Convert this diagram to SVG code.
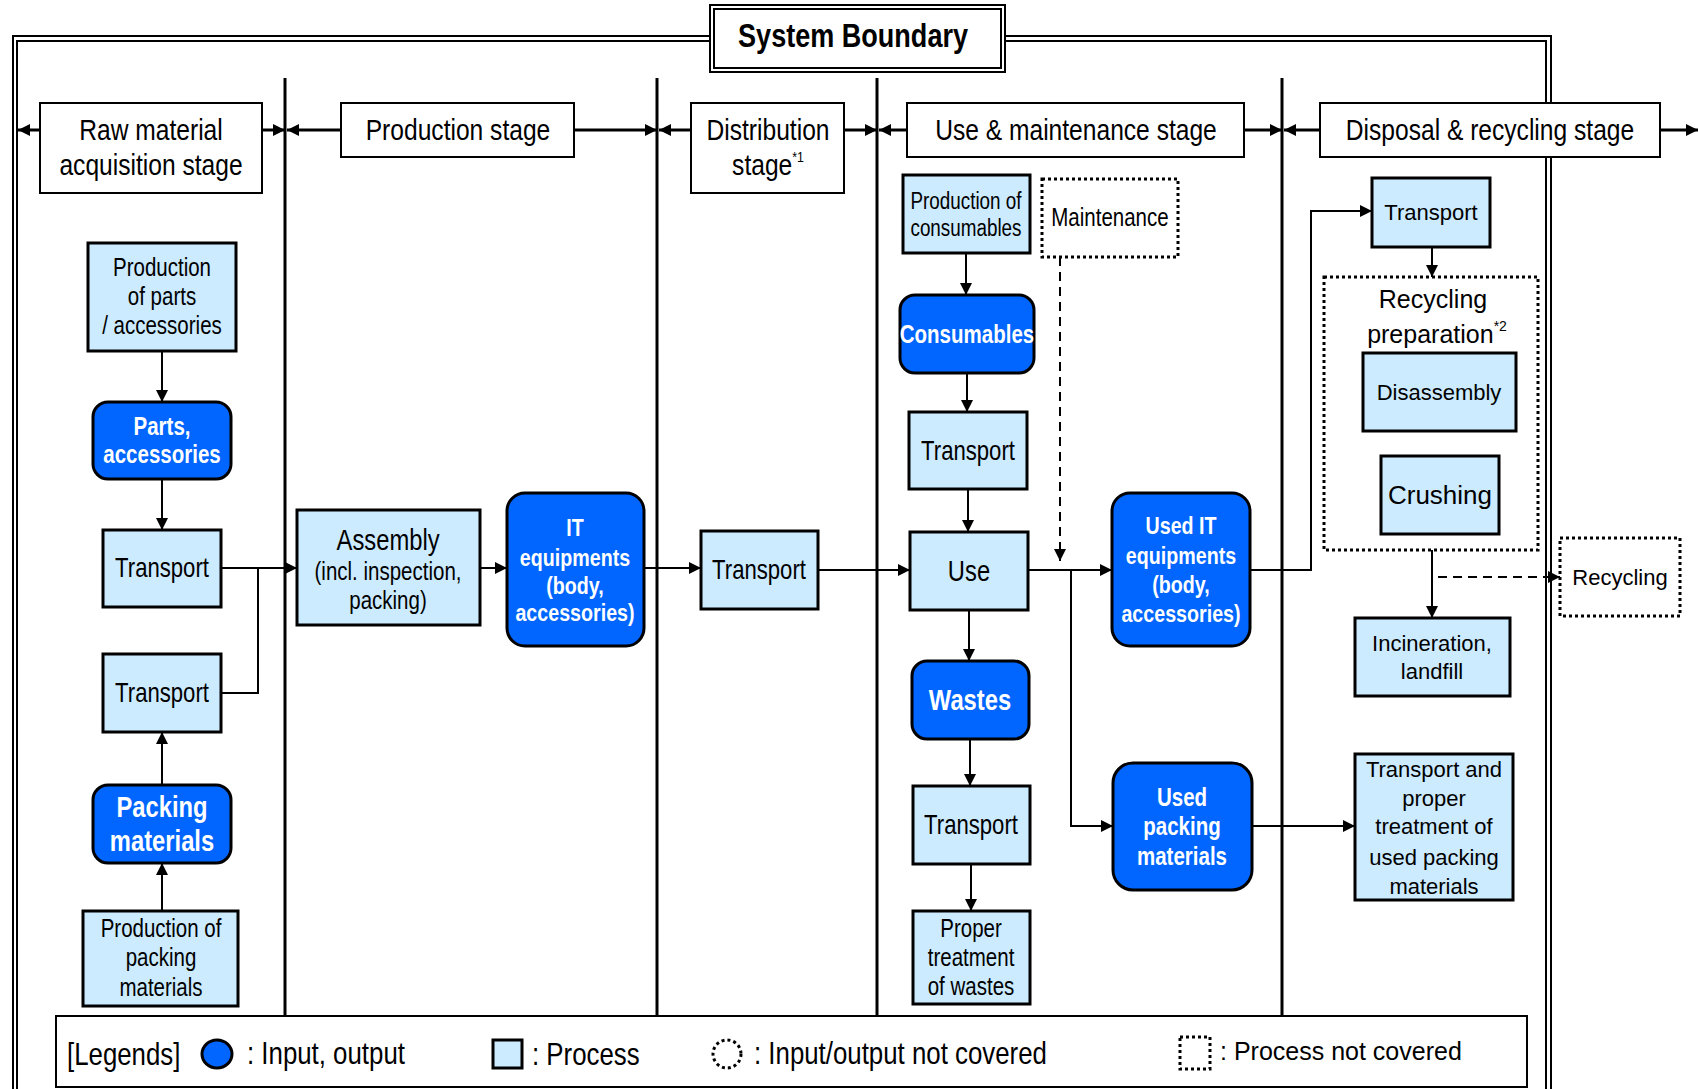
<svg xmlns="http://www.w3.org/2000/svg" width="1698" height="1089" viewBox="0 0 1698 1089">
<style>
.n{font-family:"Liberation Sans",Arial,sans-serif;transform-box:fill-box;transform-origin:center;transform:scaleX(0.82);}
.ns{font-family:"Liberation Sans",Arial,sans-serif;transform-box:fill-box;transform-origin:left center;transform:scaleX(0.82);text-anchor:start;}
.r{font-family:"Liberation Sans",Arial,sans-serif;}
text{text-anchor:middle;fill:#000;}
.w{fill:#fff;font-weight:bold;}
.proc{fill:#CCEBFF;stroke:#000;stroke-width:3;}
.io{fill:#0066FF;stroke:#000;stroke-width:3;}
.hdr{fill:#fff;stroke:#000;stroke-width:2;}
.nc{fill:#fff;stroke:#000;stroke-width:3;stroke-dasharray:3 3;}
.ln{fill:none;stroke:#000;stroke-width:2;}
.dash{fill:none;stroke:#000;stroke-width:2;stroke-dasharray:9 6;}
.hl{fill:none;stroke:#000;stroke-width:3;}
.div{stroke:#000;stroke-width:3;}
.bd{fill:none;stroke:#000;stroke-width:2;}
</style>
<defs>
<marker id="ah" markerUnits="userSpaceOnUse" markerWidth="13" markerHeight="12" refX="12" refY="6" orient="auto">
<path d="M0,0 L12,6 L0,12 z" fill="#000"/>
</marker>
</defs>
<rect width="1698" height="1089" fill="#fff"/>

<g id="boundary">
<path class="bd" d="M13,1089 V36 H1551 V1089"/>
<path class="bd" d="M17,1089 V41 H1546 V1089"/>
<line class="div" x1="285" y1="78" x2="285" y2="1016"/>
<line class="div" x1="657" y1="78" x2="657" y2="1016"/>
<line class="div" x1="877" y1="78" x2="877" y2="1016"/>
<line class="div" x1="1282" y1="78" x2="1282" y2="1016"/>
</g>

<g id="system-boundary">
<rect x="710" y="5" width="295" height="67" fill="#fff" stroke="#000" stroke-width="2"/>
<rect x="714" y="9" width="287" height="59" fill="none" stroke="#000" stroke-width="2"/>
<text class="n" x="853" y="47" font-size="33" font-weight="bold">System Boundary</text>
</g>

<g id="stage-headers">
<g id="hdr-raw"><rect class="hdr" x="40" y="103" width="222" height="90"/>
<text class="n" font-size="30" x="151" y="140">Raw material</text>
<text class="n" font-size="30" x="151" y="175">acquisition stage</text></g>
<g id="hdr-prod"><rect class="hdr" x="341" y="103" width="233" height="54"/>
<text class="n" font-size="30" x="458" y="140">Production stage</text></g>
<g id="hdr-dist"><rect class="hdr" x="691" y="103" width="153" height="90"/>
<text class="n" font-size="30" x="768" y="140">Distribution</text>
<text class="n" font-size="30" x="768" y="175">stage<tspan font-size="15" dy="-13">*1</tspan></text></g>
<g id="hdr-use"><rect class="hdr" x="907" y="103" width="337" height="54"/>
<text class="n" font-size="30" x="1076" y="140">Use &amp; maintenance stage</text></g>
<g id="hdr-disp"><rect class="hdr" x="1320" y="103" width="340" height="54"/>
<text class="n" font-size="30" x="1490" y="140">Disposal &amp; recycling stage</text></g>
</g>

<g id="connectors">
<line class="hl" x1="40" y1="130" x2="18" y2="130" marker-end="url(#ah)"/>
<line class="hl" x1="262" y1="130" x2="285" y2="130" marker-end="url(#ah)"/>
<line class="hl" x1="341" y1="130" x2="287" y2="130" marker-end="url(#ah)"/>
<line class="hl" x1="574" y1="130" x2="657" y2="130" marker-end="url(#ah)"/>
<line class="hl" x1="691" y1="130" x2="659" y2="130" marker-end="url(#ah)"/>
<line class="hl" x1="844" y1="130" x2="877" y2="130" marker-end="url(#ah)"/>
<line class="hl" x1="907" y1="130" x2="879" y2="130" marker-end="url(#ah)"/>
<line class="hl" x1="1244" y1="130" x2="1282" y2="130" marker-end="url(#ah)"/>
<line class="hl" x1="1320" y1="130" x2="1284" y2="130" marker-end="url(#ah)"/>
<line class="hl" x1="1660" y1="130" x2="1698" y2="130" marker-end="url(#ah)"/>

<path class="ln" d="M162,351 V402" marker-end="url(#ah)"/>
<path class="ln" d="M162,479 V530" marker-end="url(#ah)"/>
<path class="ln" d="M221,568 H297" marker-end="url(#ah)"/>
<path class="ln" d="M221,693 H258 V568"/>
<path class="ln" d="M162,785 V732" marker-end="url(#ah)"/>
<path class="ln" d="M162,911 V863" marker-end="url(#ah)"/>
<path class="ln" d="M480,568 H507" marker-end="url(#ah)"/>
<path class="ln" d="M644,568 H701" marker-end="url(#ah)"/>
<path class="ln" d="M818,570 H910" marker-end="url(#ah)"/>
<path class="ln" d="M966,253 V295" marker-end="url(#ah)"/>
<path class="ln" d="M967,373 V412" marker-end="url(#ah)"/>
<path class="ln" d="M968,489 V532" marker-end="url(#ah)"/>
<path class="ln" d="M969,610 V661" marker-end="url(#ah)"/>
<path class="ln" d="M970,739 V786" marker-end="url(#ah)"/>
<path class="ln" d="M971,864 V911" marker-end="url(#ah)"/>
<path class="dash" d="M1060,257 V561" marker-end="url(#ah)"/>
<path class="ln" d="M1028,570 H1112" marker-end="url(#ah)"/>
<path class="ln" d="M1071,570 V826 H1113" marker-end="url(#ah)"/>
<path class="ln" d="M1250,570 H1311 V211 H1372" marker-end="url(#ah)"/>
<path class="ln" d="M1432,247 V277" marker-end="url(#ah)"/>
<path class="ln" d="M1439,431 V456" marker-end="url(#ah)"/>
<path class="ln" d="M1432,550 V618" marker-end="url(#ah)"/>
<path class="dash" d="M1438,577 H1560" marker-end="url(#ah)"/>
<path class="ln" d="M1252,826 H1355" marker-end="url(#ah)"/>
</g>

<g id="prod-parts"><rect class="proc" x="88" y="243" width="148" height="108"/>
<text class="n" font-size="25" x="162" y="276">Production</text>
<text class="n" font-size="25" x="162" y="305">of parts</text>
<text class="n" font-size="25" x="162" y="334">/ accessories</text></g>
<g id="parts"><rect class="io" x="93" y="402" width="138" height="77" rx="15"/>
<text class="n w" font-size="25" x="162" y="435">Parts,</text>
<text class="n w" font-size="25" x="162" y="463">accessories</text></g>
<g id="transport-1"><rect class="proc" x="103" y="530" width="118" height="77"/>
<text class="n" font-size="27" x="162" y="577">Transport</text></g>
<g id="transport-2"><rect class="proc" x="103" y="654" width="118" height="78"/>
<text class="n" font-size="27" x="162" y="702">Transport</text></g>
<g id="packing"><rect class="io" x="93" y="785" width="138" height="78" rx="15"/>
<text class="n w" font-size="29" x="162" y="817">Packing</text>
<text class="n w" font-size="29" x="162" y="851">materials</text></g>
<g id="prod-packing"><rect class="proc" x="83" y="911" width="155" height="95"/>
<text class="n" font-size="25" x="161" y="937">Production of</text>
<text class="n" font-size="25" x="161" y="966">packing</text>
<text class="n" font-size="25" x="161" y="996">materials</text></g>

<g id="assembly"><rect class="proc" x="297" y="510" width="183" height="115"/>
<text class="n" font-size="29" x="388" y="550">Assembly</text>
<text class="n" font-size="25" x="388" y="580">(incl. inspection,</text>
<text class="n" font-size="25" x="388" y="609">packing)</text></g>
<g id="it-equip"><rect class="io" x="507" y="493" width="137" height="153" rx="18"/>
<text class="n w" font-size="24" x="575" y="536">IT</text>
<text class="n w" font-size="24" x="575" y="566">equipments</text>
<text class="n w" font-size="24" x="575" y="594">(body,</text>
<text class="n w" font-size="24" x="575" y="621">accessories)</text></g>

<g id="transport-dist"><rect class="proc" x="701" y="531" width="117" height="78"/>
<text class="n" font-size="27" x="759" y="579">Transport</text></g>

<g id="prod-cons"><rect class="proc" x="903" y="175" width="127" height="78"/>
<text class="n" font-size="23" x="966" y="209">Production of</text>
<text class="n" font-size="23" x="966" y="236">consumables</text></g>
<g id="maintenance"><rect class="nc" x="1042" y="179" width="136" height="78"/>
<text class="n" font-size="25" x="1110" y="226">Maintenance</text></g>
<g id="consumables"><rect class="io" x="900" y="295" width="134" height="78" rx="15"/>
<text class="n w" font-size="25" x="967" y="343">Consumables</text></g>
<g id="transport-cons"><rect class="proc" x="909" y="412" width="118" height="77"/>
<text class="n" font-size="27" x="968" y="460">Transport</text></g>
<g id="use"><rect class="proc" x="910" y="532" width="118" height="78"/>
<text class="n" font-size="29" x="969" y="581">Use</text></g>
<g id="wastes"><rect class="io" x="912" y="661" width="117" height="78" rx="15"/>
<text class="n w" font-size="29" x="970" y="710">Wastes</text></g>
<g id="transport-wastes"><rect class="proc" x="913" y="786" width="117" height="78"/>
<text class="n" font-size="27" x="971" y="834">Transport</text></g>
<g id="proper-treatment"><rect class="proc" x="913" y="911" width="117" height="93"/>
<text class="n" font-size="25" x="971" y="937">Proper</text>
<text class="n" font-size="25" x="971" y="966">treatment</text>
<text class="n" font-size="25" x="971" y="995">of wastes</text></g>
<g id="used-it"><rect class="io" x="1112" y="493" width="138" height="153" rx="18"/>
<text class="n w" font-size="24" x="1181" y="534">Used IT</text>
<text class="n w" font-size="24" x="1181" y="564">equipments</text>
<text class="n w" font-size="24" x="1181" y="593">(body,</text>
<text class="n w" font-size="24" x="1181" y="622">accessories)</text></g>
<g id="used-packing"><rect class="io" x="1113" y="763" width="139" height="127" rx="20"/>
<text class="n w" font-size="25" x="1182" y="806">Used</text>
<text class="n w" font-size="25" x="1182" y="835">packing</text>
<text class="n w" font-size="25" x="1182" y="865">materials</text></g>

<g id="transport-disp"><rect class="proc" x="1372" y="178" width="118" height="69"/>
<text class="r" font-size="22" x="1431" y="220">Transport</text></g>
<g id="recycling-prep"><rect class="nc" x="1324" y="277" width="214" height="273"/>
<text class="r" font-size="25" x="1433" y="308">Recycling</text>
<text class="r" font-size="25" x="1437" y="343">preparation<tspan font-size="14" dy="-12">*2</tspan></text></g>
<g id="disassembly"><rect class="proc" x="1363" y="353" width="153" height="78"/>
<text class="r" font-size="22" x="1439" y="400">Disassembly</text></g>
<g id="crushing"><rect class="proc" x="1381" y="456" width="118" height="78"/>
<text class="r" font-size="26" x="1440" y="504">Crushing</text></g>
<g id="recycling"><rect class="nc" x="1560" y="538" width="120" height="78"/>
<text class="r" font-size="22" x="1620" y="585">Recycling</text></g>
<g id="incineration"><rect class="proc" x="1355" y="618" width="155" height="78"/>
<text class="r" font-size="22" x="1432" y="651">Incineration,</text>
<text class="r" font-size="22" x="1432" y="679">landfill</text></g>
<g id="transport-proper"><rect class="proc" x="1355" y="754" width="158" height="146"/>
<text class="r" font-size="22" x="1434" y="777">Transport and</text>
<text class="r" font-size="22" x="1434" y="806">proper</text>
<text class="r" font-size="22" x="1434" y="834">treatment of</text>
<text class="r" font-size="22" x="1434" y="865">used packing</text>
<text class="r" font-size="22" x="1434" y="894">materials</text></g>

<g id="legend">
<rect x="56" y="1016" width="1471" height="71" fill="#fff" stroke="#000" stroke-width="2"/>
<text class="ns" font-size="31.5" x="67" y="1065">[Legends]</text>
<ellipse cx="217" cy="1054" rx="15" ry="14" class="io"/>
<text class="ns" font-size="31.5" x="247" y="1064">: Input, output</text>
<rect x="493" y="1040" width="29" height="28" class="proc"/>
<text class="ns" font-size="31.5" x="532" y="1065">: Process</text>
<circle cx="727" cy="1054" r="14" fill="none" stroke="#000" stroke-width="3" stroke-dasharray="3 3"/>
<text class="ns" font-size="31.5" x="754" y="1064">: Input/output not covered</text>
<rect x="1180" y="1037" width="30" height="32" class="nc"/>
<text class="r" font-size="25" x="1220" y="1060" style="text-anchor:start">: Process not covered</text>
</g>
</svg>
